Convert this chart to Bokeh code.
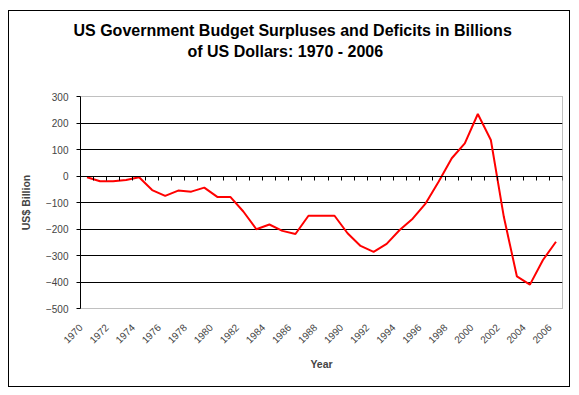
import math
from bokeh.plotting import figure
from bokeh.models import Range1d, LinearAxis, FixedTicker, Title
from bokeh.embed import file_html
from bokeh.resources import INLINE

# ---- data ----
years = list(range(1970, 2007))
values = [-5, -20, -20, -15, -5, -53, -75, -55, -59, -44,
          -79, -79, -134, -201, -183, -207, -219, -150, -150, -150,
          -216, -264, -286, -256, -204, -161, -103, -21, 67, 123,
          234, 136, -155, -379, -410, -317, -248]
label_years = years[::2]
y_ticks = [-500, -400, -300, -200, -100, 0, 100, 200, 300]
y_grid_ticks = y_ticks[1:-1]
category_edges = [y - 0.5 for y in years] + [years[-1] + 0.5]
title_lines = ["US Government Budget Surpluses and Deficits in Billions",
               "of US Dollars: 1970 - 2006"]

FONT = "Liberation Sans"
LABEL_SHIFT = 0.49  # Excel-style placement of rotated category labels

p = figure(width=562, height=377, title=None,
           x_range=Range1d(category_edges[0], category_edges[-1]),
           y_range=Range1d(y_ticks[0], y_ticks[-1]),
           output_backend="svg", toolbar_location=None,
           min_border_left=71, min_border_right=9,
           min_border_top=85, min_border_bottom=80)
p.styles = {"border": "1px solid black", "margin-left": "8px", "margin-top": "10px"}
p.background_fill_color = "white"
p.border_fill_color = "white"
p.outline_line_color = "#808080"
p.outline_line_dash = "1 1"
p.outline_line_width = 1

# keep references to the default axes before adding more
xa = p.below[0]
ya = p.left[0]

# invisible spacer between plot area and title (one hidden tick of fixed length)
spacer = LinearAxis(ticker=FixedTicker(ticks=[category_edges[0]]),
                    axis_line_color=None,
                    major_tick_line_color=None, minor_tick_line_color=None,
                    major_label_text_color=None, major_label_text_font_size="0px",
                    major_label_overrides={category_edges[0]: ""},
                    major_tick_in=0, major_tick_out=36, major_label_standoff=0)
p.add_layout(spacer, "above")

# title: two lines (second one nearest the plot)
for txt, off, so in [(title_lines[1], 107, 2), (title_lines[0], -7, 2)]:
    p.add_layout(Title(text=txt, align="left", offset=off, standoff=so,
                       text_font=FONT, text_font_size="16px",
                       text_font_style="bold", text_color="black"), "above")

# grids
p.xgrid.visible = False
p.ygrid.ticker = FixedTicker(ticks=y_grid_ticks)
p.ygrid.grid_line_color = "black"
p.ygrid.grid_line_width = 1

# y axis
ya.ticker = FixedTicker(ticks=y_ticks)
ya.axis_label = "US$ Billion"
ya.axis_label_text_font = FONT
ya.axis_label_text_font_size = "10.5px"
ya.axis_label_text_font_style = "bold"
ya.axis_label_standoff = 11
ya.major_label_text_font = FONT
ya.major_label_text_font_size = "10px"
ya.major_label_standoff = 8
ya.major_tick_in = 0
ya.major_tick_out = 4
ya.minor_tick_line_color = None
ya.axis_line_color = "black"

# x label axis (bottom)
label_pos = [y - LABEL_SHIFT for y in label_years]
xa.ticker = FixedTicker(ticks=label_pos)
xa.major_label_overrides = {pos: str(y) for pos, y in zip(label_pos, label_years)}
xa.major_label_orientation = math.pi / 4
xa.major_label_text_font = FONT
xa.major_label_text_font_size = "10px"
xa.major_label_standoff = 17
xa.axis_line_color = None
xa.major_tick_line_color = None
xa.major_tick_in = 0
xa.major_tick_out = 0
xa.minor_tick_line_color = None
xa.axis_label = "Year"
xa.axis_label_text_font = FONT
xa.axis_label_text_font_size = "10.5px"
xa.axis_label_text_font_style = "bold"
xa.axis_label_standoff = 8

# x axis line at zero with category ticks
za = LinearAxis(fixed_location=0, ticker=FixedTicker(ticks=category_edges),
                major_tick_in=0, major_tick_out=4,
                minor_tick_line_color=None,
                major_label_text_color=None,
                axis_line_color="black", major_tick_line_color="black")
p.add_layout(za, "below")

p.line(years, values, line_color="#FF0000", line_width=2)

open("out.html", "w").write(file_html(p, INLINE))
